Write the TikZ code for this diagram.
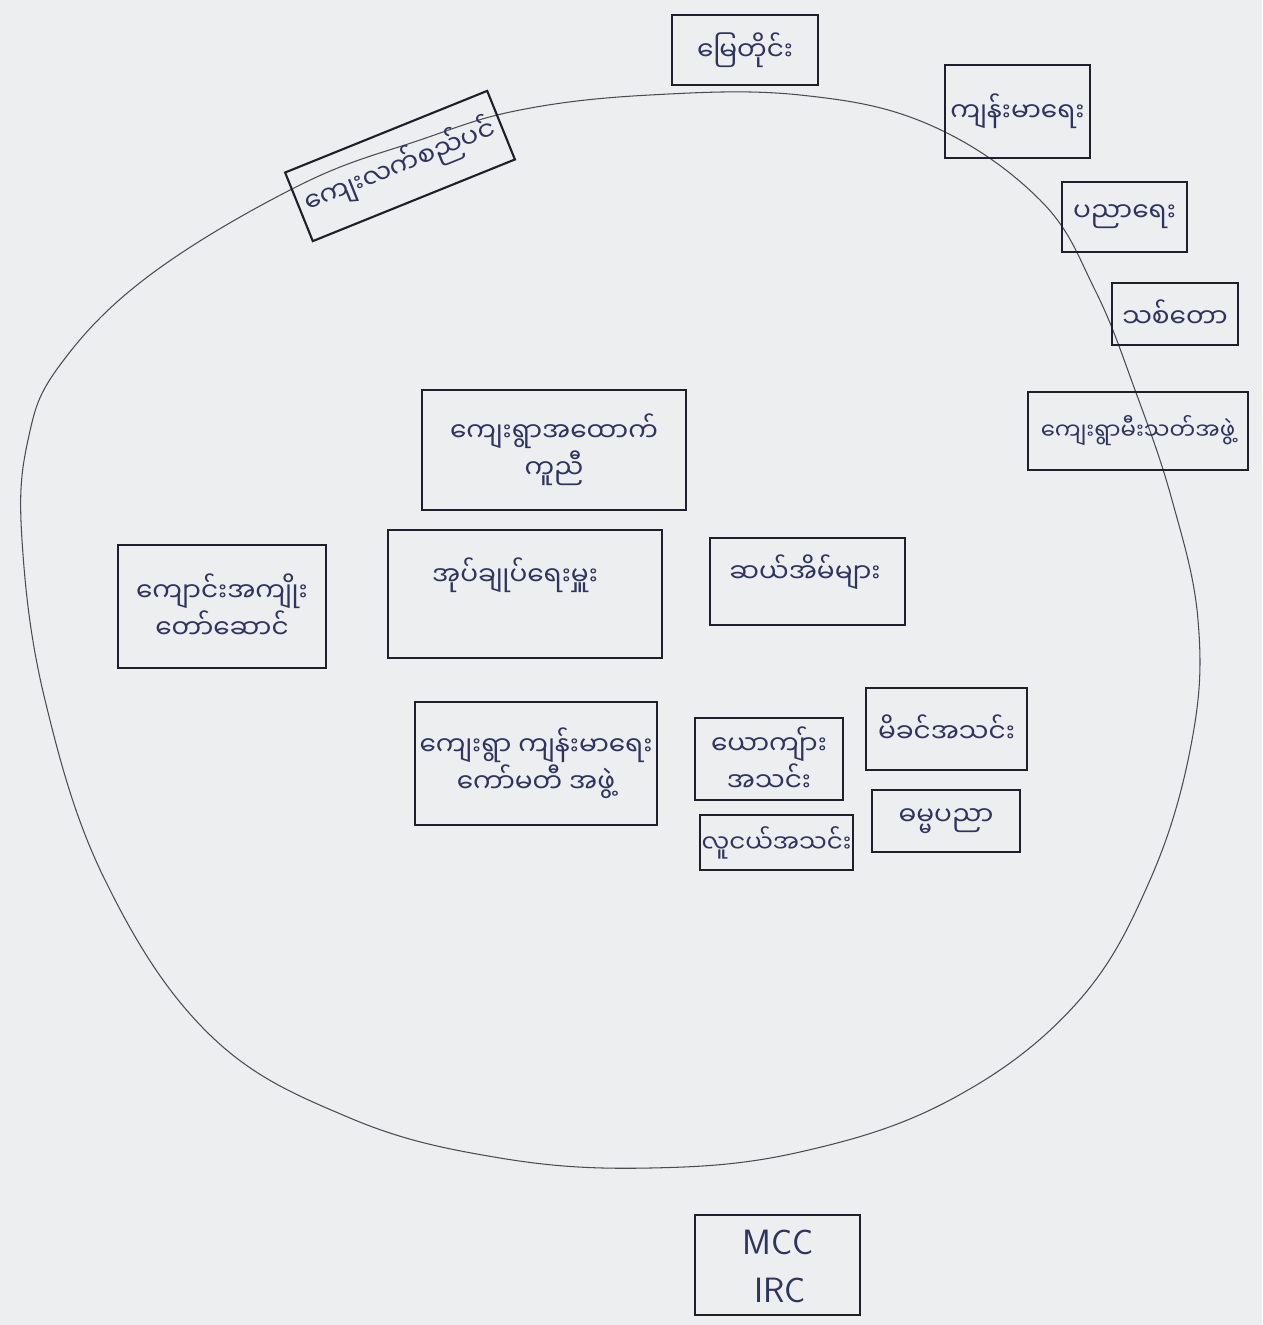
\documentclass[tikz,border=0pt]{standalone}
\usepackage{fontspec}
\newfontfamily\mya[Script=Myanmar]{Noto Sans Myanmar UI}
\definecolor{paper}{HTML}{ECEEEF}
\definecolor{ink}{HTML}{2E3360}
\definecolor{pen}{HTML}{1E1E2C}
\begin{document}
\begin{tikzpicture}[x=0.02cm,y=-0.02cm,
  box/.style={draw=pen,line width=1.2pt},
  lbl/.style={text=ink,font=\mya\fontsize{15}{21}\selectfont,align=center,inner sep=0pt},
  lat/.style={text=ink,font=\fontsize{20}{30}\selectfont\sffamily,align=center,inner sep=0pt}]
\fill[paper] (0,0) rectangle (1262,1325);
\useasboundingbox (0,0) rectangle (1262,1325);
% outer circle
\draw[pen!80,line width=0.6pt] plot[smooth cycle,tension=0.65] coordinates {
 (300,185) (420,140) (520,110) (650,95) (800,95) (930,125) (1040,200) (1095,290)
 (1135,390) (1172,500) (1198,620) (1192,740) (1150,880) (1075,1005) (950,1100)
 (800,1152) (650,1168) (500,1158) (350,1118) (210,1035) (105,880) (45,700)
 (22,540) (28,440) (60,365) (150,275)};
% outer boxes
\draw[box] (672,15) rectangle (818,85) node[midway,lbl] (bank) {မြေတိုင်း};
\draw[box] (945,65) rectangle (1090,158) node[midway,lbl] (health) {ကျန်းမာရေး};
\draw[box] (1062,182) rectangle (1187,252) node[midway,lbl] (edu) {ပညာရေး};
\draw[box] (1112,283) rectangle (1238,345) node[midway,lbl] (forest) {သစ်တော};
\draw[box] (1028,392) rectangle (1248,470) node[midway,lbl,font=\mya\fontsize{13}{18}\selectfont] (fire) {ကျေးရွာမီးသတ်အဖွဲ့};
\node[box,lbl,rotate=22,minimum width=4.36cm,minimum height=1.48cm] (dev) at (400,166) {ကျေးလက်စည်ပင်};
% inner boxes
\draw[box] (422,390) rectangle (686,510) node[midway,lbl] (sup) {ကျေးရွာအထောက်\\ကူညီ};
\draw[box] (118,545) rectangle (326,668) node[midway,lbl] (school) {ကျောင်းအကျိုး\\တော်ဆောင်};
\draw[box] (388,530) rectangle (662,658) coordinate[pos=0.5] (adminbox);
\node[lbl] (admin) at (515,575) {အုပ်ချုပ်ရေးမှူး};
\draw[box] (710,538) rectangle (905,625);
\node[lbl] (ten) at (805,572) {ဆယ်အိမ်များ};
\draw[box] (415,702) rectangle (657,825) node[midway,lbl] (vhc) {ကျေးရွာ ကျန်းမာရေး\\ကော်မတီ အဖွဲ့};
\draw[box] (695,718) rectangle (843,800) node[midway,lbl] (men) {ယောကျ်ား\\အသင်း};
\draw[box] (866,688) rectangle (1027,770) node[midway,lbl] (mom) {မိခင်အသင်း};
\draw[box] (700,815) rectangle (853,870) node[midway,lbl,font=\mya\fontsize{14}{18}\selectfont] (youth) {လူငယ်အသင်း};
\draw[box] (872,790) rectangle (1020,852) node[midway,lbl] (dham) {ဓမ္မပညာ};
% MCC IRC
\draw[box] (695,1215) rectangle (860,1315);
\node[lat] (mcc) at (778,1242) {MCC};
\node[lat] (irc) at (780,1290) {IRC};
\end{tikzpicture}
\end{document}
